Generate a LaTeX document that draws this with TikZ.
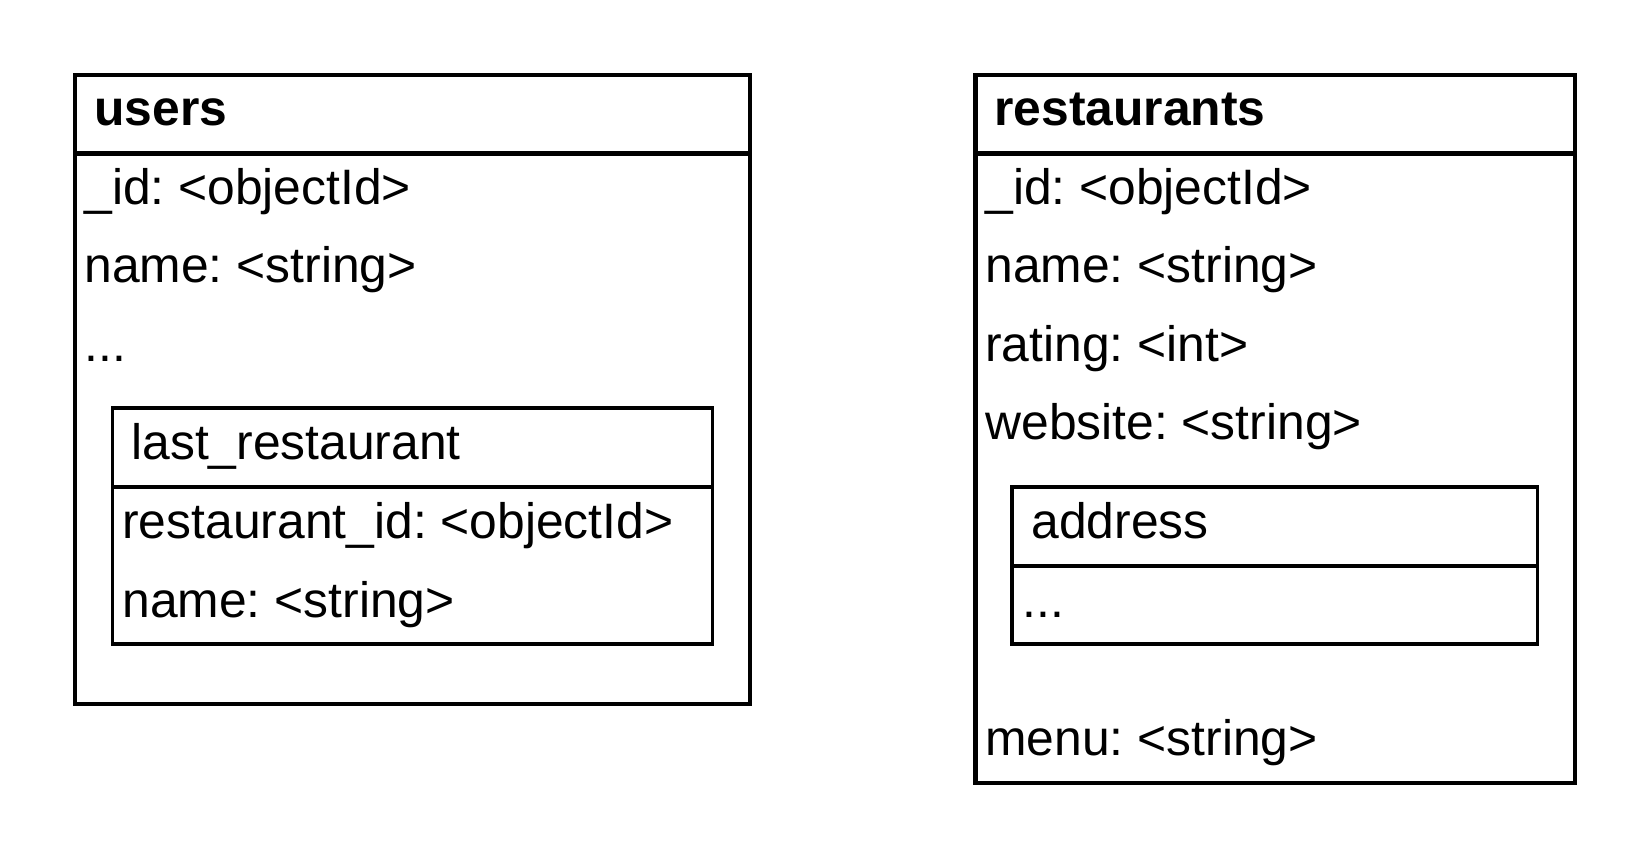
\documentclass[tikz,border=0pt]{standalone}
\usepackage{fontspec}
\setmainfont{Liberation Sans}
\usepackage{tikz}

\begin{document}
\frenchspacing
\begin{tikzpicture}[x=0.5pt,y=-0.5pt,
	table/.style={draw,line width=2.2pt},
	subtable/.style={draw,line width=1.7pt},
	field/.style={anchor=base west,inner sep=0pt,font=\fontsize{24.9pt}{30pt}\selectfont},
	head/.style={field,font=\fontsize{24.9pt}{30pt}\selectfont\bfseries}]
	\useasboundingbox (0,0) rectangle (1650,859);
	% users
	\draw [table] (75,75) rectangle (750,704);
	\draw [table] (75,153.5) -- (750,153.5);
	\node [head] (users) at (94,125) {users};
	\node [field] (uid) at (84,204) {\_id: <objectId>};
	\node [field] (uname) at (84,282.5) {name: <string>};
	\node [field] (udots) at (84,361) {...};
	% last_restaurant
	\draw [subtable] (112.5,408) rectangle (712.5,644);
	\draw [subtable] (112.5,487) -- (712.5,487);
	\node [field] (last) at (131,459) {last\_restaurant};
	\node [field] (lrid) at (122,538.5) {restaurant\_id: <objectId>};
	\node [field] (lrname) at (122,617.5) {name: <string>};
	% restaurants
	\draw [table] (975.5,75) rectangle (1575,783);
	\draw [table] (975.5,153.5) -- (1575,153.5);
	\node [head] (rest) at (994,125) {restaurants};
	\node [field] (rid) at (985,204) {\_id: <objectId>};
	\node [field] (rname) at (985,282.5) {name: <string>};
	\node [field] (rrating) at (985,361) {rating: <int>};
	\node [field] (rweb) at (985,439.5) {website: <string>};
	\node [field] (rmenu) at (985,755) {menu: <string>};
	% address
	\draw [subtable] (1012,487) rectangle (1537.5,644);
	\draw [subtable] (1012,566) -- (1537.5,566);
	\node [field] (addr) at (1031,538) {address};
	\node [field] (adots) at (1022,617) {...};
\end{tikzpicture}
\end{document}
